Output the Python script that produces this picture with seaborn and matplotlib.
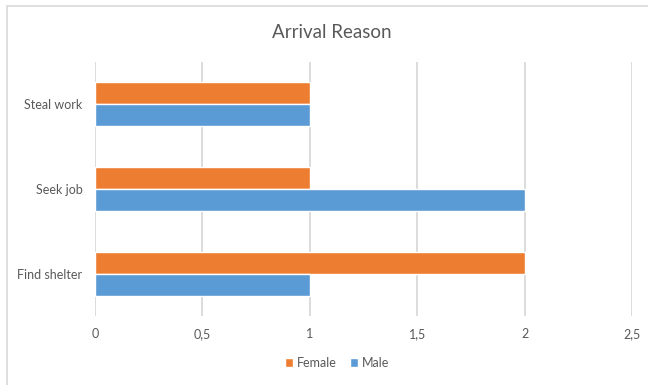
import matplotlib
matplotlib.use("Agg")
import matplotlib.pyplot as plt
import matplotlib.patches as mpatches
from matplotlib.ticker import FuncFormatter
import seaborn as sns
import pandas as pd

# Data
categories = ["Steal work", "Seek job", "Find shelter"]
female = [1, 1, 2]
male = [1, 2, 1]
series = ["Female", "Male"]
x_ticks = [0, 0.5, 1, 1.5, 2, 2.5]

df = pd.DataFrame({
    "reason": categories * 2,
    "count": female + male,
    "sex": ["Female"] * len(categories) + ["Male"] * len(categories),
})

sns.set_style("white")
plt.rcParams["font.family"] = ["Lato", "DejaVu Sans"]
text_color = "#595959"
grid_color = "#D9D9D9"
palette = {"Female": "#ED7D31", "Male": "#5B9BD5"}

fig = plt.figure(figsize=(6.48, 3.85), dpi=100)
ax = fig.add_axes([95 / 648, 1 - 316 / 385, (632 - 95) / 648, (316 - 62) / 385])

sns.barplot(data=df, y="reason", x="count", hue="sex", order=categories,
            hue_order=series, palette=palette, orient="h", width=0.52,
            saturation=1, ax=ax, legend=True)

ax.set_xlim(0, 2.5)
ax.set_xticks(x_ticks)
ax.xaxis.set_major_formatter(FuncFormatter(lambda v, p: f"{v:g}".replace(".", ",")))
ax.grid(axis="x", color=grid_color, linewidth=1.3)
ax.set_axisbelow(True)
for s in ax.spines.values():
    s.set_visible(False)
ax.tick_params(axis="both", length=0, labelsize=9, colors=text_color)
ax.tick_params(axis="x", pad=9)
ax.tick_params(axis="y", pad=9)
ax.set_xlabel("")
ax.set_ylabel("")

# Legend below the axis labels
handles, labels = ax.get_legend_handles_labels()
ax.legend(handles, labels, loc="center", bbox_to_anchor=(337 / 648, 1 - 363 / 385),
          bbox_transform=fig.transFigure, ncol=2, frameon=False,
          fontsize=9, handlelength=0.7, handleheight=0.7, handletextpad=0.3,
          columnspacing=1.0, labelcolor=text_color)

fig.text(332 / 648, 1 - 33 / 385, "Arrival Reason", ha="center", va="center",
         fontsize=13.5, color=text_color)

# Chart frame
fig.patches.append(mpatches.Rectangle((7 / 648, -0.1), 1.2, 1 - 6 / 385 + 0.1,
                                      transform=fig.transFigure, fill=False,
                                      edgecolor="#D9D9D9", linewidth=1.2))

fig.savefig("out.png", dpi=100)
